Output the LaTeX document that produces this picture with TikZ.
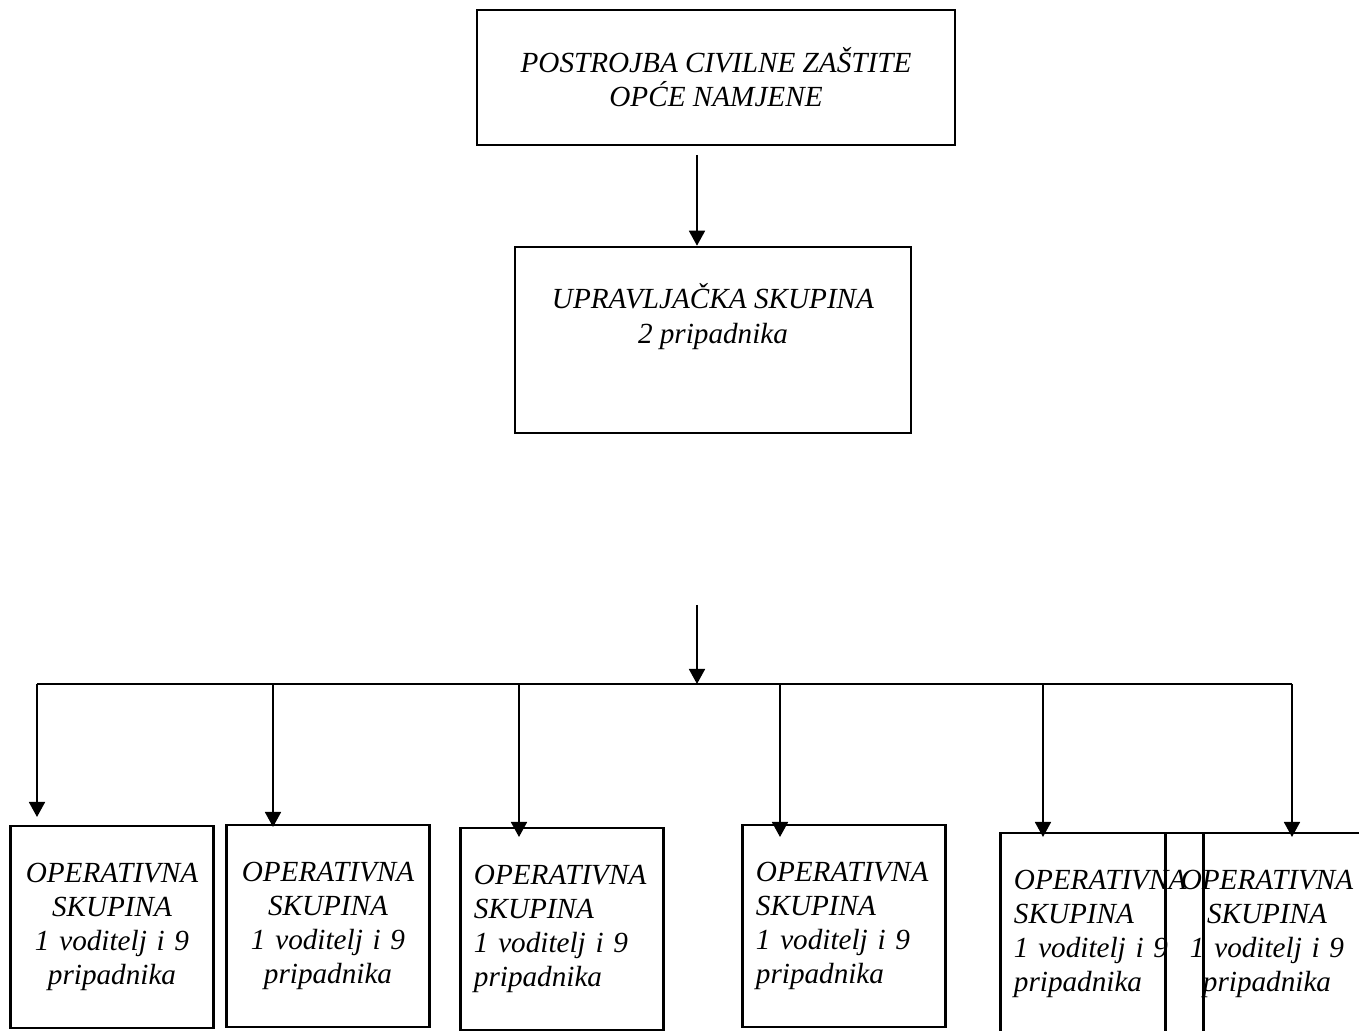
\documentclass[tikz,border=0pt]{standalone}
\usepackage{fontspec}
\setmainfont{Liberation Serif}
\usetikzlibrary{arrows.meta}
\tikzset{
    org-box/.style = {draw, line width=0.7pt, rectangle, inner sep=0pt, font=\itshape\fontsize{8.3}{9.7}\selectfont},
    ops-box/.style = {org-box, minimum width=2.03cm, minimum height=2.02cm, text width=1.76cm},
    org-arrow/.style = {line width=0.5pt, -{Triangle[length=0.15cm, width=0.16cm]}},
}

\begin{document}
\begin{tikzpicture}[x=0.01cm, y=-0.01cm]
\useasboundingbox (0,0) rectangle (1359,1031);
\clip (0,0) rectangle (1359,1031);
\node [org-box, minimum width=4.78cm, minimum height=1.35cm, align=center] (pcz) at (716,77.5) {POSTROJBA CIVILNE ZAŠTITE\\OPĆE NAMJENE};
\node [org-box, minimum width=3.96cm, minimum height=1.86cm, align=center] (upr) at (713,340) {UPRAVLJAČKA SKUPINA\\2 pripadnika\\[0.19cm]\mbox{}};
\coordinate (pcz-out) at (697,155);
\draw [org-arrow] (pcz-out) -- (pcz-out |- upr.north);

\coordinate (upr-out) at (697,605);
\coordinate (bus-l) at (37,684);
\coordinate (bus-r) at (1292,684);
\draw [org-arrow] (upr-out) -- (upr-out |- bus-l);
\draw [line width=0.6pt] (bus-l) -- (bus-r);

\foreach \n/\x/\y/\al in {1/112/927/center, 2/328/926/center, 3/562/929/left, 4/844/926/left, 5/1102/934/left, 6/1267/934/center}
    \node [ops-box, align=\al] (ops\n) at (\x,\y) {OPERATIVNA\\SKUPINA\\1 voditelj i 9\\pripadnika};

\foreach \n/\x/\ty in {1/37/817, 2/273/827, 3/519/837, 4/780/837, 5/1043/837, 6/1292/837} {
    \coordinate (tip\n) at (\x,\ty);
    \draw [org-arrow] (tip\n |- bus-l) -- (tip\n);
}
\end{tikzpicture}
\end{document}
